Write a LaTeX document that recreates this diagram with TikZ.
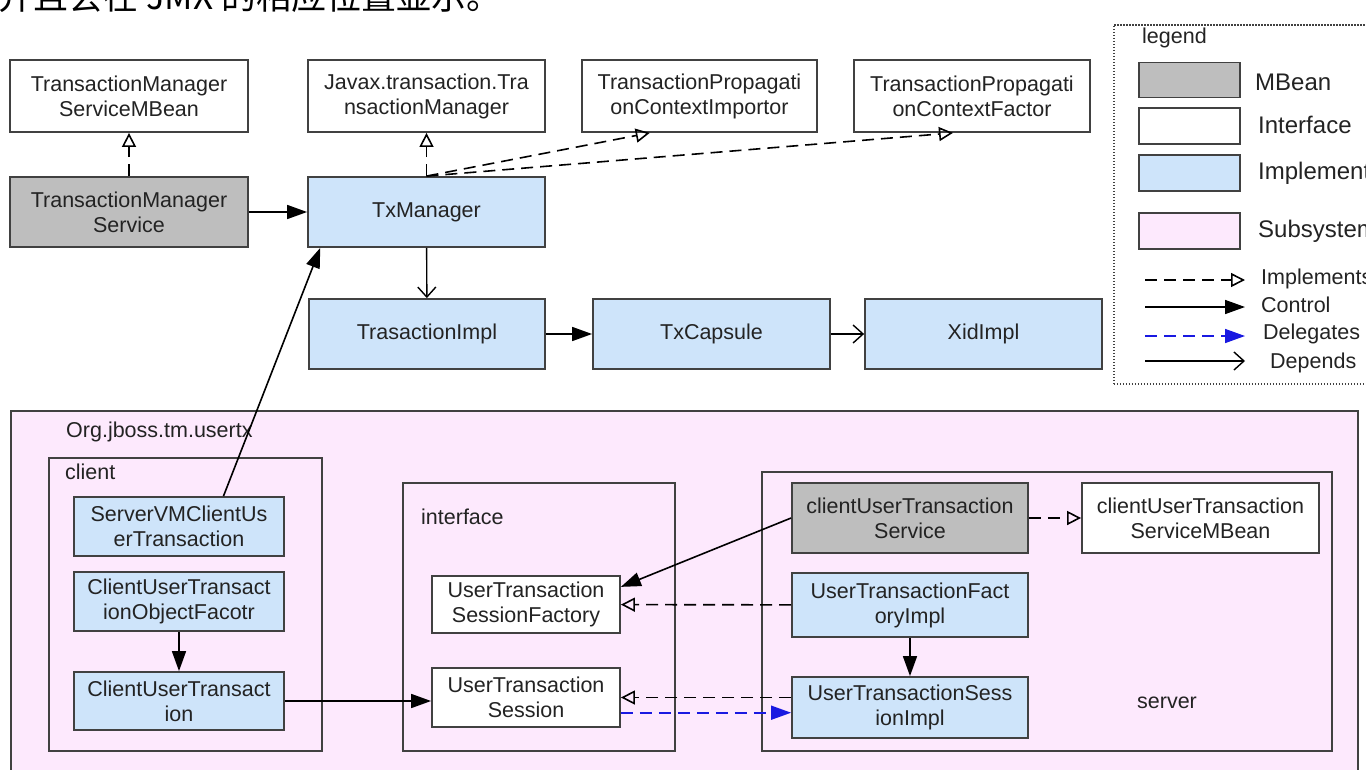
\documentclass[tikz,border=0pt]{standalone}
\usepackage{fontspec}
\setmainfont{Liberation Sans}
\newfontfamily\cjk{Noto Sans CJK SC}
\usetikzlibrary{arrows.meta,calc}
\definecolor{mbeangray}{RGB}{190,190,190}
\definecolor{implblue}{RGB}{206,228,250}
\definecolor{subpink}{RGB}{253,233,253}
\definecolor{edgegray}{RGB}{65,65,65}
\definecolor{delblue}{RGB}{25,25,225}
\definecolor{inkgray}{RGB}{35,35,35}

\begin{document}
\begin{tikzpicture}[x=1pt,y=-1pt,
  every node/.style={font=\fontsize{21.5}{25}\selectfont, inner sep=0pt, text=inkgray},
  sz/.style n args={2}{minimum width=#1pt, minimum height=#2pt},
  box/.style={draw=edgegray, line width=1.8pt, align=center},
  mbean/.style={box, fill=mbeangray},
  iface/.style={box, fill=white},
  impl/.style={box, fill=implblue},
  group/.style={draw=edgegray, line width=1.8pt},
  control/.style={line width=1.6pt, -{Triangle[length=20pt,width=14pt]}},
  implements/.style={line width=1.6pt, dash pattern=on 12pt off 7pt,
      -{Triangle[open,length=14pt,width=14pt,line width=1.6pt]}},
  delegates/.style={draw=delblue, line width=1.6pt, dash pattern=on 12pt off 7pt,
      -{Triangle[length=20pt,width=14pt]}},
  depends/.style={line width=1.4pt, -{Straight Barb[length=10pt,width=18pt]}},
  legtext/.style={anchor=west, font=\fontsize{24}{28}\selectfont},
]
\useasboundingbox (0,0) rectangle (1366,769);

% heading line above the diagram
\node[anchor=base west, font=\cjk\fontsize{35}{35}\selectfont, text=black] (title) at (-2,9) {并且会在 JMX 的相应位置显示。};

% ---------- subsystem containers ----------
\node[group, fill=subpink, anchor=north west, sz={1347}{380}] (sub) at (10,410) {};
\node[group, anchor=north west, sz={273}{293}] (client) at (48,457) {};
\node[group, anchor=north west, sz={272}{268}] (ifc) at (402,482) {};
\node[group, anchor=north west, sz={570}{279}] (server) at (761,471) {};

\node[anchor=west] (pkg) at (66,432) {Org.jboss.tm.usertx};
\node[anchor=west] (lclient) at (65,472) {client};
\node[anchor=west] (lifc) at (421,517) {interface};
\node (lserver) at (1167,703) {server};

% ---------- core transaction manager ----------
\node[iface, sz={238}{72}] (tmsmb) at (129,96) {TransactionManager\\ServiceMBean};
\node[iface, sz={237}{72}] (jx) at (426.5,96) {Javax.transaction.Tra\\nsactionManager};
\node[iface, sz={235}{72}] (tpci) at (699.5,96) {TransactionPropagati\\onContextImportor};
\node[iface, sz={236}{72}] (tpcf) at (972,96) {TransactionPropagati\\onContextFactor};

\node[mbean, sz={238}{70}] (tms) at (129,212) {TransactionManager\\Service};
\node[impl, sz={237}{70}] (txm) at (426.5,212) {TxManager};

\node[impl, sz={236}{70}] (ti) at (427,334) {TrasactionImpl};
\node[impl, sz={237}{70}] (txc) at (711.5,334) {TxCapsule};
\node[impl, sz={237}{70}] (xid) at (983.5,334) {XidImpl};

% ---------- usertx: client ----------
\node[impl, sz={210}{59}] (svm) at (179,526.5) {ServerVMClientUs\\erTransaction};
\node[impl, sz={210}{59}] (cutof) at (179,601.5) {ClientUserTransact\\ionObjectFacotr};
\node[impl, sz={210}{58}] (cut) at (179,701) {ClientUserTransact\\ion};

% ---------- usertx: interface ----------
\node[iface, sz={188}{57}] (utsf) at (526,604.5) {UserTransaction\\SessionFactory};
\node[iface, sz={188}{59}] (uts) at (526,697.5) {UserTransaction\\Session};

% ---------- usertx: server ----------
\node[mbean, sz={236}{70}] (cuts) at (910,518) {clientUserTransaction\\Service};
\node[iface, sz={237}{70}] (cutsmb) at (1200.5,518) {clientUserTransaction\\ServiceMBean};
\node[impl, sz={236}{64}] (utfi) at (910,605) {UserTransactionFact\\oryImpl};
\node[impl, sz={236}{61}] (utsi) at (910,707.5) {UserTransactionSess\\ionImpl};

% ---------- connectors ----------
\draw[implements] (tms) -- (tmsmb);
\draw[control] (tms) -- (txm);
\draw[implements] (txm) -- (jx);
\draw[implements] (txm.north) -- ($(tpci.south west)!0.29!(tpci.south east)$);
\draw[implements] (txm.north) -- ($(tpcf.south west)!0.42!(tpcf.south east)$);
\draw[depends] (txm) -- (ti);
\draw[control] (ti) -- (txc);
\draw[depends] (txc) -- (xid);
\draw[control] ($(svm.north west)!0.71!(svm.north east)$) -- ($(txm.south west)!0.055!(txm.south east)$);

\draw[control] (cutof) -- (cut);
\draw[control] (cut.east) -- (cut.east -| uts.west);

\draw[implements] (cuts) -- (cutsmb);
\draw[control] (cuts.west) -- ($(utsf.north east)!0.2!(utsf.south east)$);
\draw[implements] (utfi) -- (utsf);
\draw[control] (utfi) -- (utsi);
\draw[implements] (uts.east -| utsi.west) -- (uts.east);
\coordinate (dstart) at ($(uts.south east)!0.25!(uts.north east)$);
\draw[delegates] (dstart) -- (dstart -| utsi.west);

% ---------- legend ----------
\node[draw=edgegray, line width=1.5pt, dash pattern=on 1.5pt off 1.5pt,
      anchor=north west, sz={270}{359}] (legend) at (1113,24) {};
\node[anchor=west] (legtitle) at (1142,38) {legend};

\node[mbean, sz={101}{35}] (swm) at (1189.5,80) {};
\node[legtext] (lm) at (1255,82) {MBean};
\node[iface, sz={101}{36}] (swi) at (1189.5,126) {};
\node[legtext] (li) at (1258,125) {Interface};
\node[impl, sz={101}{36}] (swp) at (1189.5,173) {};
\node[legtext] (lp) at (1258,173) {Implementation};
\node[box, fill=subpink, sz={101}{36}] (sws) at (1189.5,231) {};
\node[legtext] (ls) at (1258,231) {Subsystem};

\coordinate (la1) at (1145,280); \coordinate (lb1) at (1245,280);
\coordinate (la2) at (1145,307); \coordinate (lb2) at (1245,307);
\coordinate (la3) at (1145,336); \coordinate (lb3) at (1245,336);
\coordinate (la4) at (1145,361); \coordinate (lb4) at (1245,361);
\draw[implements] (la1) -- (lb1);
\draw[control] (la2) -- (lb2);
\draw[delegates] (la3) -- (lb3);
\draw[depends] (la4) -- (lb4);
\node[anchor=west] (lt1) at (1261,279) {Implements};
\node[anchor=west] (lt2) at (1261,305) {Control};
\node[anchor=west] (lt3) at (1263,334) {Delegates};
\node[anchor=west] (lt4) at (1270,363) {Depends};
\end{tikzpicture}
\end{document}
